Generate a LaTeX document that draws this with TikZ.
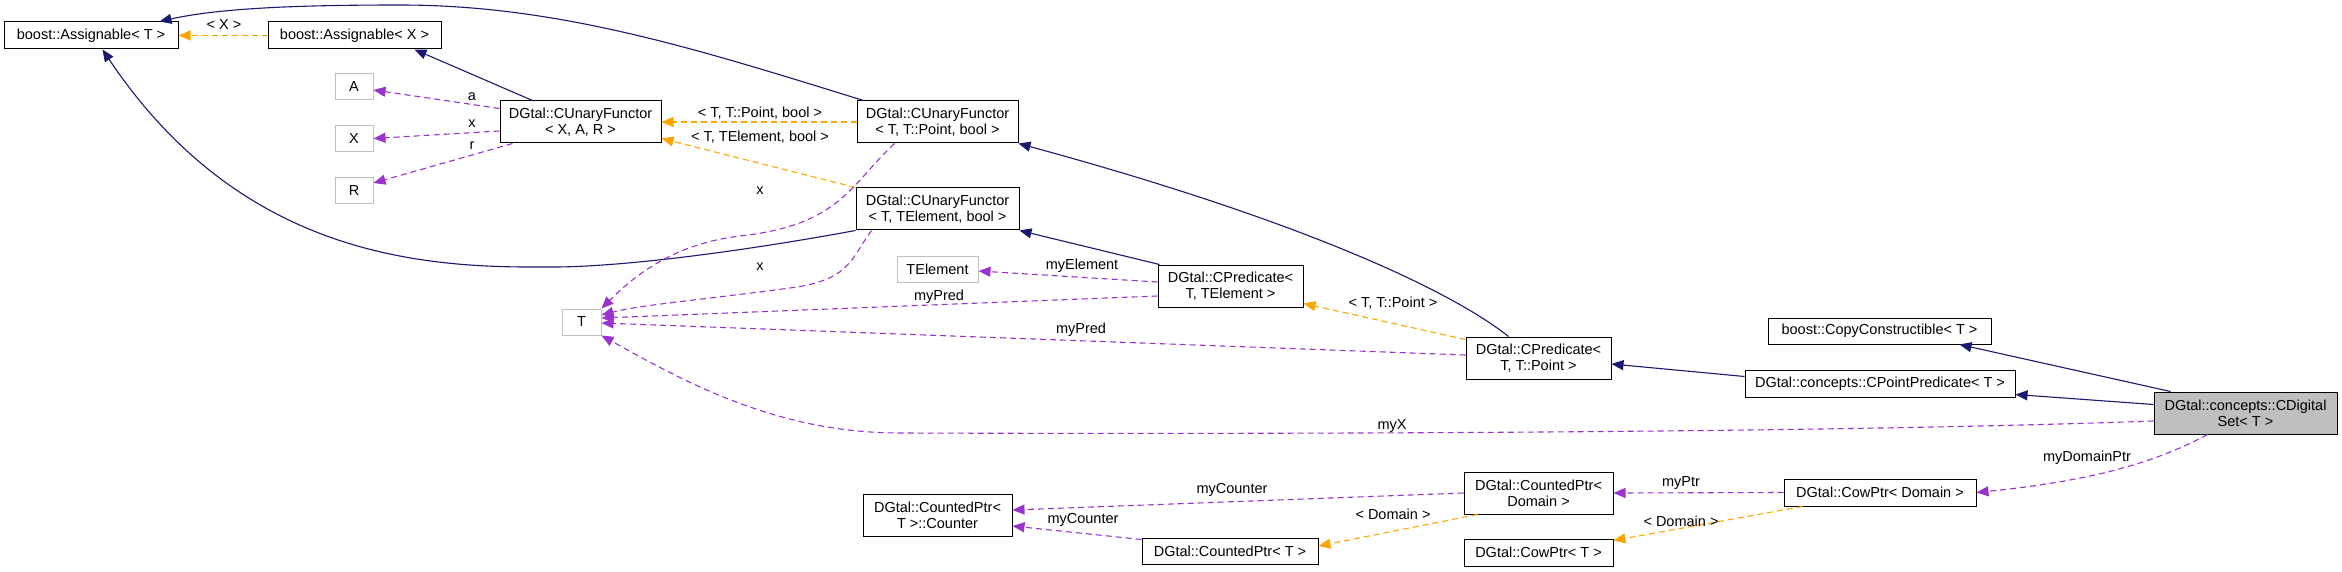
\documentclass[tikz,border=0pt]{standalone}
\usepackage{fontspec}
\setmainfont{Liberation Sans}
\usetikzlibrary{arrows.meta}
\definecolor{navyc}{HTML}{191970}
\definecolor{orangec}{HTML}{FFA500}
\definecolor{purplec}{HTML}{9A32CD}
\definecolor{boxgray}{HTML}{BFBFBF}
\newcommand\nodefont{\fontsize{14.5}{16}\selectfont}
\tikzset{
  box/.style={draw=black, line width=1pt, fill=white, inner sep=0pt, align=center, font=\nodefont},
  gbox/.style={box, draw=boxgray},
  lbl/.style={inner sep=0pt, font=\nodefont, text=black},
  tipstyle/.style={-{Triangle[length=12pt,width=10pt]}},
  inh/.style={draw=navyc, line width=1.1pt, tipstyle},
  tmpl/.style={draw=orangec, line width=1.1pt, dash pattern=on 6pt off 4pt, tipstyle},
  usee/.style={draw=purplec, line width=1.1pt, dash pattern=on 6pt off 4pt, tipstyle},
}
\begin{document}
\begin{tikzpicture}[x=1pt,y=-1pt]
\useasboundingbox[fill=white] (0,0) rectangle (2342,572);
% nodes
\node[box, minimum width=174pt, minimum height=27pt] (AssT) at (91,35.5) {boost::Assignable< T >};
\node[box, minimum width=173pt, minimum height=27pt] (AssX) at (354.5,35.5) {boost::Assignable< X >};
\node[gbox, minimum width=38pt, minimum height=26pt] (A) at (354,87) {A};
\node[gbox, minimum width=38pt, minimum height=26pt] (X) at (354,138.5) {X};
\node[gbox, minimum width=38pt, minimum height=26pt] (R) at (354,191) {R};
\node[box, minimum width=161pt, minimum height=42pt] (CUFXAR) at (580.5,122) {DGtal::CUnaryFunctor\\< X, A, R >};
\node[box, minimum width=161pt, minimum height=42pt] (CUFTP) at (937.5,122) {DGtal::CUnaryFunctor\\< T, T::Point, bool >};
\node[box, minimum width=163pt, minimum height=42pt] (CUFTE) at (937.5,209) {DGtal::CUnaryFunctor\\< T, TElement, bool >};
\node[gbox, minimum width=39pt, minimum height=26pt] (T) at (581.5,322) {T};
\node[gbox, minimum width=81pt, minimum height=26pt] (TEl) at (937.5,269) {TElement};
\node[box, minimum width=145pt, minimum height=42pt] (CPredTE) at (1230.5,286) {DGtal::CPredicate<\\T, TElement >};
\node[box, minimum width=145pt, minimum height=42pt] (CPredTP) at (1538.5,358) {DGtal::CPredicate<\\T, T::Point >};
\node[box, minimum width=223pt, minimum height=26pt] (CopyC) at (1879.5,331) {boost::CopyConstructible< T >};
\node[box, minimum width=270pt, minimum height=27pt] (CPP) at (1880,383.5) {DGtal::concepts::CPointPredicate< T >};
\node[box, fill=boxgray, minimum width=183pt, minimum height=42pt] (CDS) at (2245.5,413) {DGtal::concepts::CDigital\\Set< T >};
\node[box, minimum width=149pt, minimum height=42pt] (Counter) at (937.5,515) {DGtal::CountedPtr<\\T >::Counter};
\node[box, minimum width=176pt, minimum height=26pt] (CPT) at (1230,551) {DGtal::CountedPtr< T >};
\node[box, minimum width=149pt, minimum height=42pt] (CPD) at (1538.5,493) {DGtal::CountedPtr<\\Domain >};
\node[box, minimum width=149pt, minimum height=27pt] (CowT) at (1538.5,552.5) {DGtal::CowPtr< T >};
\node[box, minimum width=192pt, minimum height=27pt] (CowD) at (1880,492.5) {DGtal::CowPtr< Domain >};
% inheritance edges
\draw[inh] ([xshift=33pt]CUFXAR.north west) -- ([xshift=147pt]AssX.south west);
\draw[inh] ([xshift=7pt]CUFTP.north west) .. controls (700,50) and (560,5) .. (400,5) .. controls (300,5) and (220,8) .. ([xshift=156pt]AssT.north west);
\draw[inh] (CUFTE.south west) .. controls (750,250) and (620,268) .. (545,267) .. controls (420,268) and (240,255) .. ([xshift=99pt]AssT.south west);
\draw[inh] ([xshift=2pt]CPredTE.north west) -- (CUFTE.south east);
\draw[inh] ([xshift=43pt]CPredTP.north west) .. controls (1450,290) and (1300,220) .. (CUFTP.south east);
\draw[inh] ([yshift=-7pt]CPP.north west) -- ([yshift=-6pt]CPredTP.east);
\draw[inh] ([yshift=-13pt]CDS.north west) -- ([yshift=-25pt]CPP.north east);
\draw[inh] ([xshift=17pt]CDS.north west) -- ([xshift=-32pt]CopyC.south east);
% template edges
\draw[tmpl] (AssX.west) -- (AssT.east);
\draw[tmpl] (CUFTP.west) -- (CUFXAR.east);
\draw[tmpl] (CUFTE.north west) -- ([yshift=5pt]CUFXAR.south east);
\draw[tmpl] ([yshift=-3pt]CPredTP.north west) -- ([yshift=4pt]CPredTE.south east);
\draw[tmpl] ([xshift=14pt]CPD.south west) -- ([yshift=5pt]CPT.east);
\draw[tmpl] ([xshift=19pt]CowD.south west) -- ([yshift=-2pt]CowT.north east);
% usage edges
\draw[usee] ([yshift=-8pt]CUFXAR.north west) -- ([yshift=-3pt]A.east);
\draw[usee] ([yshift=-9pt]CUFXAR.west) -- (X.east);
\draw[usee] ([xshift=13pt]CUFXAR.south west) -- ([yshift=8pt]R.east);
\draw[usee] ([xshift=38pt]CUFTP.south west) .. controls (850,185) and (840,225) .. (740,236) .. controls (680,243) and (640,270) .. (T.north east);
\draw[usee] ([xshift=16pt]CUFTE.south west) .. controls (850,260) and (850,280) .. (790,288) .. controls (700,300) and (640,305) .. ([yshift=7pt]T.east);
\draw[usee] ([yshift=4pt]CPredTE.west) -- ([yshift=-2pt]TEl.east);
\draw[usee] ([yshift=-10pt]CPredTE.west) -- ([yshift=4pt]T.east);
\draw[usee] ([yshift=3pt]CPredTP.west) -- ([yshift=-1pt]T.east);
\draw[usee] ([yshift=-8pt]CDS.west) .. controls (1800,434) and (1200,434) .. (900,433) .. controls (780,433) and (690,385) .. (T.south east);
\draw[usee] ([xshift=54pt]CDS.south west) .. controls (2160,460) and (2100,480) .. (CowD.east);
\draw[usee] (CowD.west) -- (CPD.east);
\draw[usee] (CPD.west) -- ([yshift=5pt]Counter.east);
\draw[usee] ([yshift=-2pt]CPT.north west) -- ([yshift=-11pt]Counter.east);
% labels
\node[lbl] (lX) at (224,25) {< X >};
\node[lbl] (lTP) at (760,113) {< T, T::Point, bool >};
\node[lbl] (lTE) at (760,137) {< T, TElement, bool >};
\node[lbl] (la) at (472,97) {a};
\node[lbl] (lx1) at (472,124) {x};
\node[lbl] (lr) at (472,146) {r};
\node[lbl] (lx2) at (760,191) {x};
\node[lbl] (lx3) at (760,267) {x};
\node[lbl] (lmyEl) at (1082,266) {myElement};
\node[lbl] (lmyPred1) at (939,297) {myPred};
\node[lbl] (lmyPred2) at (1081,330) {myPred};
\node[lbl] (lTPt) at (1393,303) {< T, T::Point >};
\node[lbl] (lmyX) at (1392,426) {myX};
\node[lbl] (lmyDP) at (2087,458) {myDomainPtr};
\node[lbl] (lmyPtr) at (1681,483) {myPtr};
\node[lbl] (lDom1) at (1393,514) {< Domain >};
\node[lbl] (lDom2) at (1681,521) {< Domain >};
\node[lbl] (lmyC1) at (1232,490) {myCounter};
\node[lbl] (lmyC2) at (1083,520) {myCounter};
\end{tikzpicture}
\end{document}
